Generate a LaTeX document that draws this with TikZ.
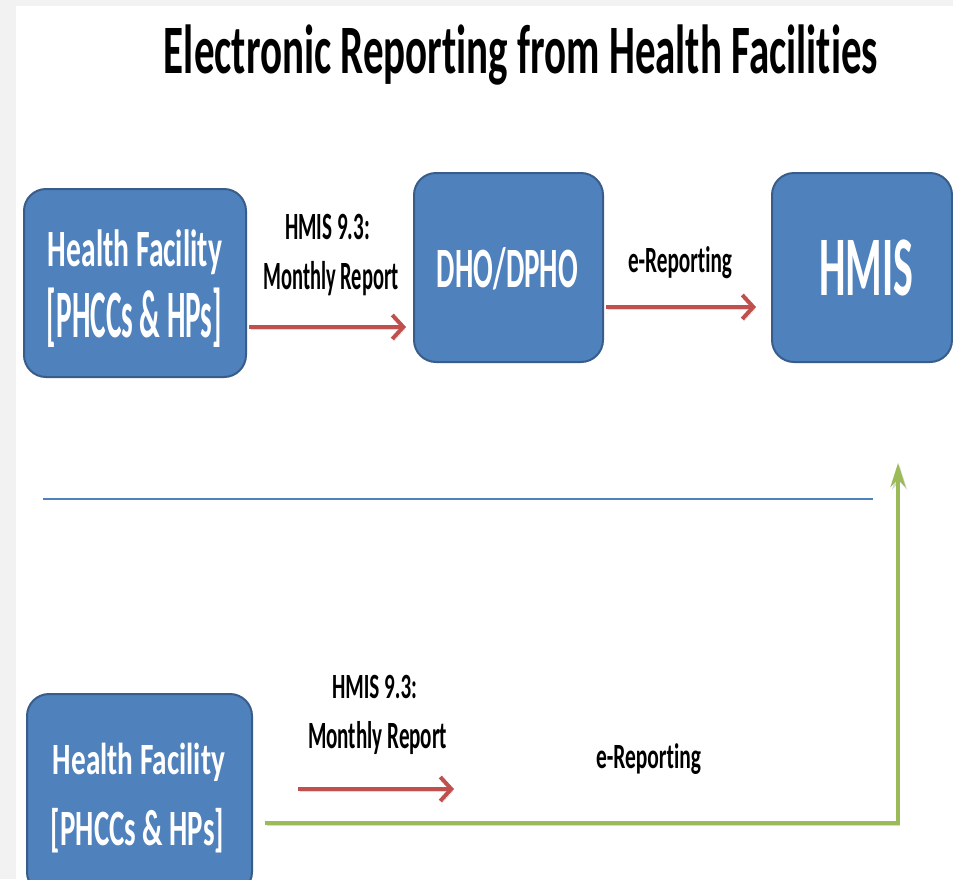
\documentclass[tikz,border=0pt]{standalone}
\usepackage{fontspec}
\setmainfont[RawFeature={-liga,-clig,-dlig}]{Carlito}
\usepackage{graphicx}
\usetikzlibrary{arrows.meta,calc}
\definecolor{boxblue}{HTML}{4F81BD}
\definecolor{boxedge}{HTML}{385D8A}
\definecolor{arrred}{HTML}{C0504D}
\definecolor{arrgreen}{HTML}{9BBB59}
\definecolor{bggray}{HTML}{F2F2F2}
\newlength\fith \newlength\fitc
% #1 target width, #2 target cap height, #3 text
\newcommand\fittext[3]{\settoheight\fith{#3}\settoheight\fitc{H}%
  \resizebox{#1}{\dimexpr #2*\fith/\fitc\relax}{#3}}
\tikzset{
  box/.style={draw=boxedge, line width=2pt, fill=boxblue, rounded corners=22pt, inner sep=0pt},
  boxtext/.style={anchor=base, inner sep=0pt, text=white, font=\bfseries},
  lbl/.style={anchor=base, inner sep=0pt, font=\bfseries},
  shadowed/.style={preaction={draw=black, opacity=0.15, transform canvas={shift={(1.5pt,-2.5pt)}}}},
  redarr/.style={draw=arrred, line width=4pt, -{Straight Barb[length=11pt,width=24pt]}, shadowed},
  greenarr/.style={draw=arrgreen, line width=4.5pt, -{Stealth[length=24pt,width=15pt]}, shadowed},
  sepline/.style={draw=boxblue, line width=2pt}
}
\begin{document}
\begin{tikzpicture}[x=1pt,y=-1pt]
\useasboundingbox (0,0) rectangle (953,879);
\clip (0,0) rectangle (953,879);
\fill[bggray] (0,0) rectangle (953,879);
\fill[white] (16,6) rectangle (953,879);

% title
\node[lbl] (title) at (521,73) {\fittext{714pt}{45pt}{Electronic Reporting from Health Facilities}};

% top row boxes
\node[box, minimum width=222pt, minimum height=188pt] (hf1) at (135,283) {};
\node[box, minimum width=189pt, minimum height=189pt] (dho) at (508.5,267.5) {};
\node[box, minimum width=180pt, minimum height=189pt] (hmis) at (862,267.5) {};

\node[boxtext] (hf1a) at (135,266) {\fittext{174pt}{34pt}{Health Facility}};
\node[boxtext] (hf1b) at (134.5,337) {\fittext{175pt}{44pt}{[PHCCs \& HPs]}};
\node[boxtext] (dhot) at (507.5,287) {\fittext{141pt}{37pt}{DHO/DPHO}};
\node[boxtext] (hmist) at (866,295) {\fittext{94pt}{55pt}{HMIS}};

% top labels
\node[lbl] (l1a) at (327.5,239) {\fittext{85pt}{25pt}{HMIS 9.3:}};
\node[lbl] (l1b) at (331,289) {\fittext{135pt}{26pt}{Monthly Report}};
\node[lbl] (l2) at (680,272) {\fittext{104pt}{24pt}{e-Reporting}};

% top arrows
\draw[redarr] ($(hf1.east)+(2,44)$) -- ($(dho.west)+(-7,59.5)$);
\draw[redarr] ($(dho.east)+(2,39.5)$) -- ($(hmis.west)+(-15,39.5)$);

% separator
\draw[sepline] (43,499) -- (873,499);

% bottom row
\node[box, minimum width=225pt, minimum height=200pt] (hf2) at (139.5,794) {};
\node[boxtext] (hf2a) at (139,774) {\fittext{172pt}{29pt}{Health Facility}};
\node[boxtext] (hf2b) at (137.5,845) {\fittext{173pt}{33pt}{[PHCCs \& HPs]}};

\node[lbl] (l3a) at (374.5,698) {\fittext{85pt}{23pt}{HMIS 9.3:}};
\node[lbl] (l3b) at (377.5,748) {\fittext{139pt}{25pt}{Monthly Report}};
\node[lbl] (l4) at (648.5,768) {\fittext{105pt}{23pt}{e-Reporting}};

\coordinate (rtip) at ($(hf2.east)+(201,-5)$);
\draw[redarr] ($(hf2.east)+(45,-5)$) -- (rtip);

\coordinate (gtip) at (898,463);
\draw[greenarr] ($(hf2.east)+(12,29)$) -| (gtip);
\end{tikzpicture}
\end{document}
